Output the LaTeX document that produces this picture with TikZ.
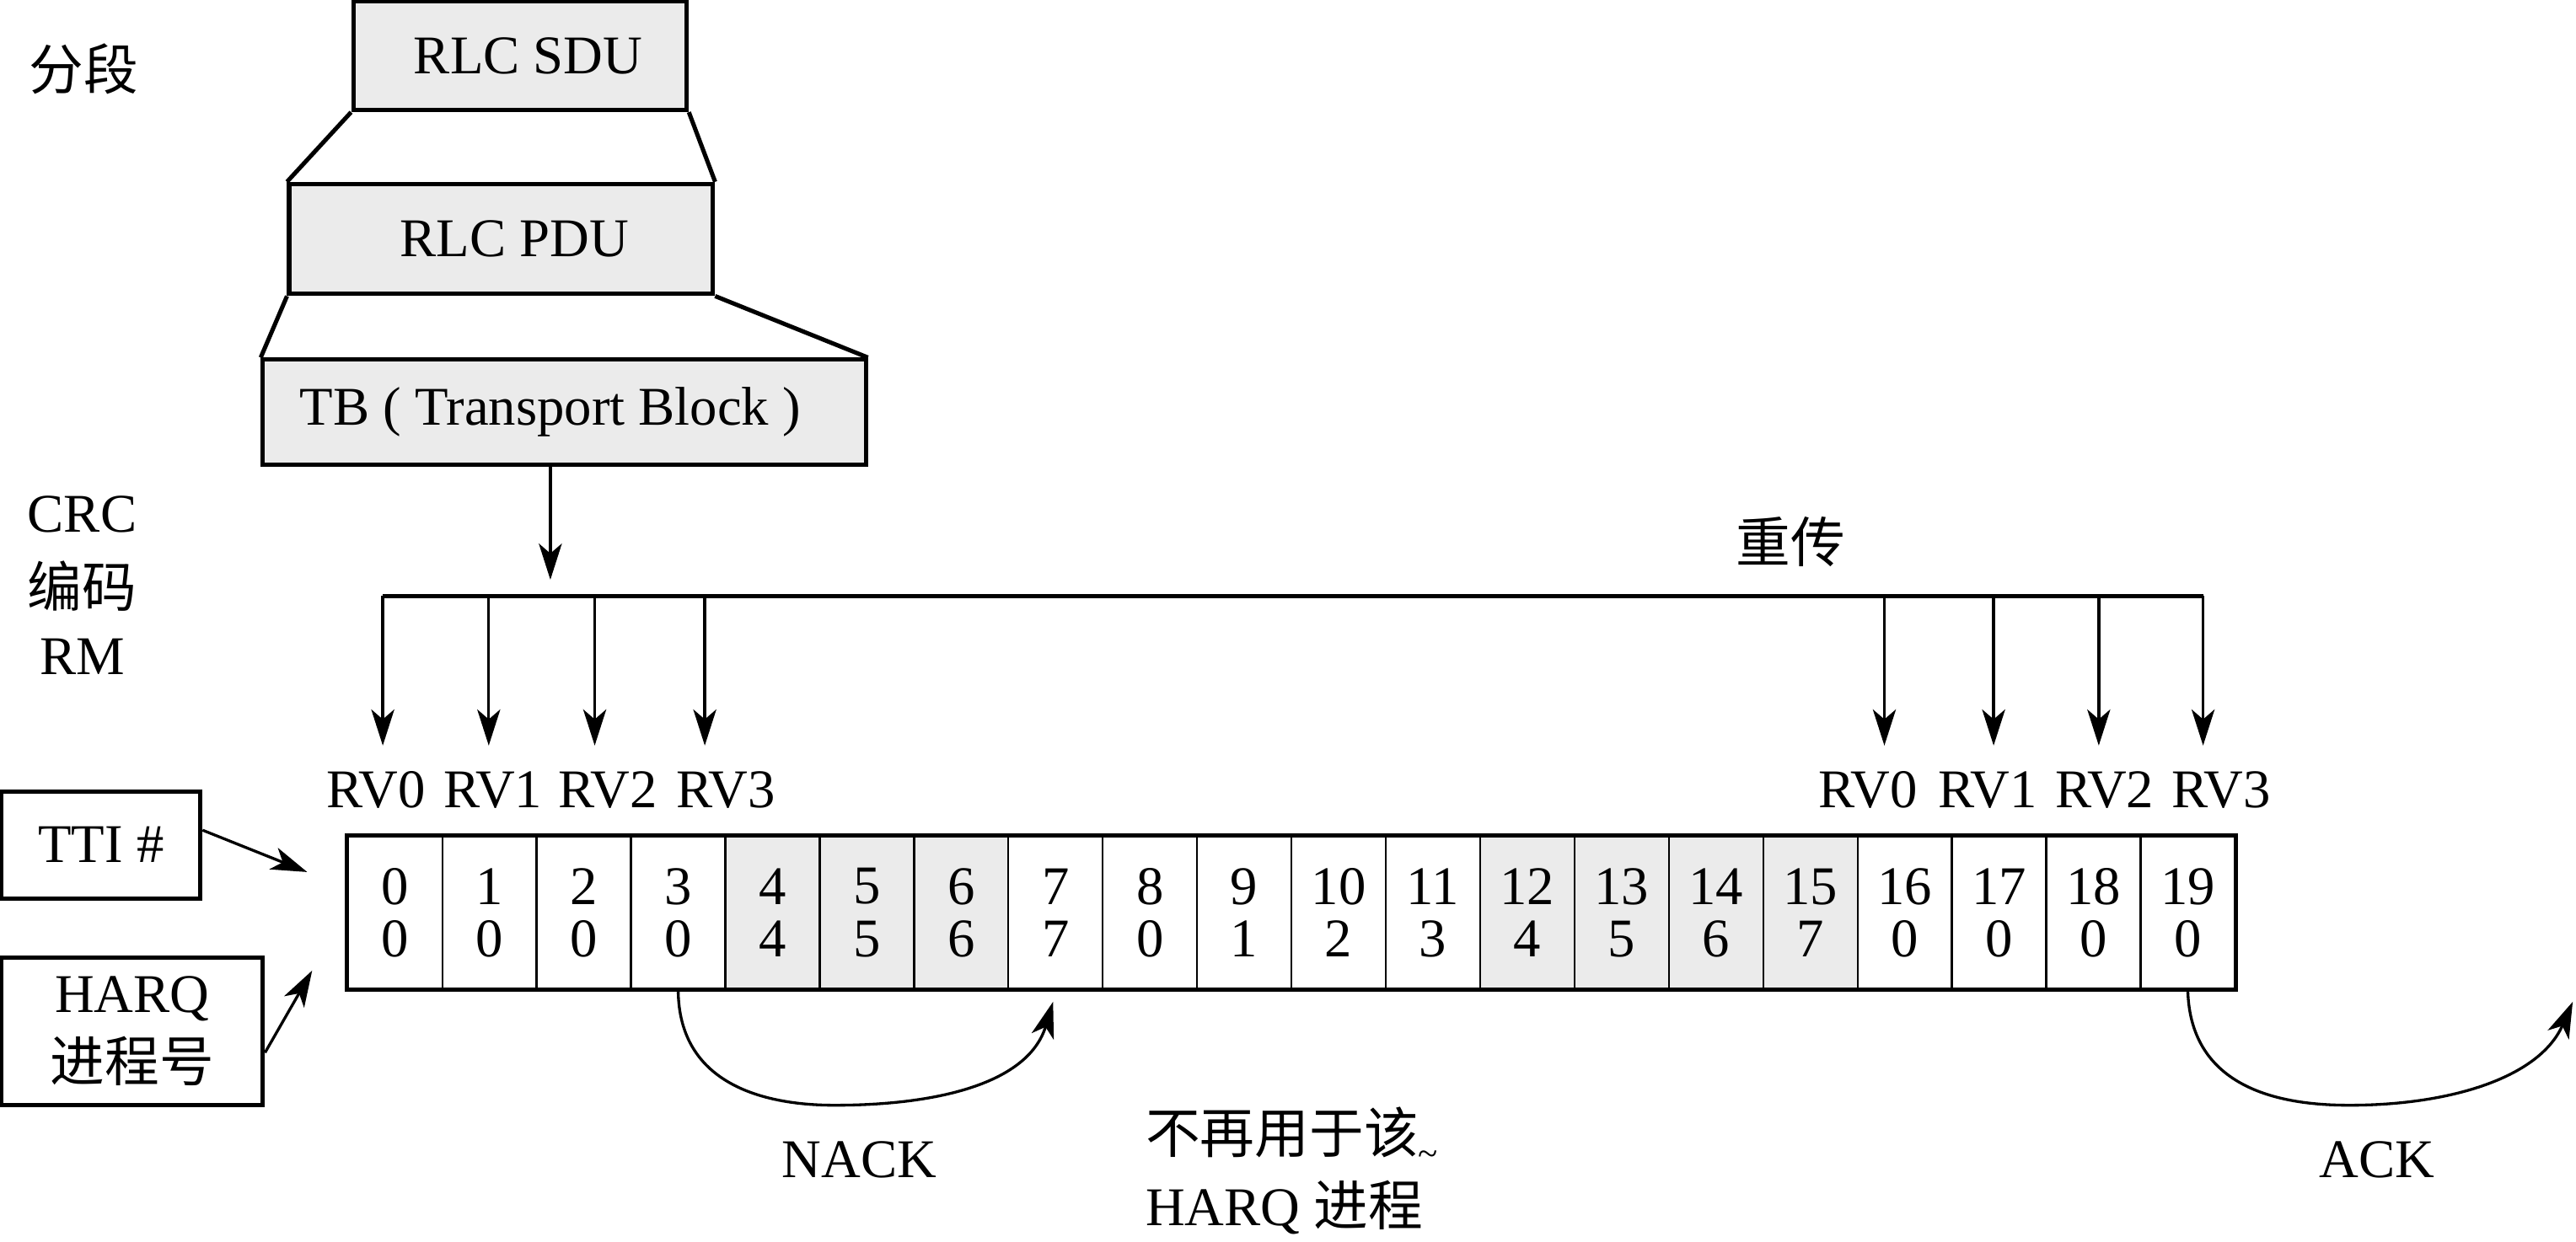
\documentclass[tikz,border=0pt]{standalone}
\usepackage{fontspec}
\setmainfont{Liberation Serif}
\newfontfamily\cjk{Noto Sans CJK SC}
\usetikzlibrary{arrows.meta,calc}
\definecolor{boxgray}{RGB}{235,235,235}
\begin{document}
\begin{tikzpicture}[x=0.5pt,y=-0.5pt,
  every node/.style={font=\fontsize{16.6}{16}\selectfont, inner sep=0pt},
  blk/.style={draw, line width=1.3pt, fill=boxgray},
  lblbox/.style={draw, line width=1.3pt, fill=white, align=center},
  cellst/.style={draw, line width=0.6pt, minimum width=28.715pt, minimum height=46.25pt, align=center},
  arr/.style={-{Stealth[length=11pt,width=7pt,inset=3pt]}, line width=0.85pt},
  thk/.style={line width=1.3pt}]
\useasboundingbox (0,0) rectangle (1568,756);

% segmentation stack
\node[blk, minimum width=101.5pt, minimum height=33pt] (sdu) at (316.5,34) {\hspace*{5pt}RLC SDU};
\node[blk, minimum width=129pt, minimum height=33.5pt] (pdu) at (305,145.5) {\hspace*{8pt}RLC PDU};
\node[blk, minimum width=183.5pt, minimum height=32pt] (tb) at (343.5,251) {TB ( Transport Block )\hspace*{8.5pt}};
\draw[thk] (sdu.south west) -- (pdu.north west);
\draw[thk] (sdu.south east) -- (pdu.north east);
\draw[thk] (pdu.south west) -- (tb.north west);
\draw[thk] (pdu.south east) -- (tb.north east);

% left labels
\node (fenduan) at (51,42) {\cjk 分段};
\node (crc) at (50,313) {CRC};
\node (bianma) at (50,357) {\cjk 编码};
\node (rm) at (50,400) {RM};
\node (chuan) at (1090,330) {\cjk 重传};

% bus
\coordinate (busin) at (335,353);
\coordinate (busL) at (233,363);
\coordinate (busR) at (1341,363);
\draw[arr] ($(tb.south)+(-8.5,0)$) -- (busin);
\draw[thk] (busL) -- (busR);
\foreach \n/\x in {a/233,b/297.5,c/362,d/429,e/1147,f/1213.5,g/1277.5,h/1341}{
  \coordinate (top\n) at (\x,363);
  \coordinate (tip\n) at (\x,454);
  \draw[arr] (top\n) -- (tip\n);
}
\foreach \n/\x/\t in {a/229/RV0,b/300/RV1,c/370/RV2,d/442/RV3,e/1137/RV0,f/1210/RV1,g/1281/RV2,h/1352/RV3}{
  \node (rv\n) at (\x,481) {\t};
}

% TTI table
\foreach \i/\h/\f in {0/0/white,1/0/white,2/0/white,3/0/white,4/4/boxgray,5/5/boxgray,6/6/boxgray,7/7/white,
  8/0/white,9/1/white,10/2/white,11/3/white,12/4/boxgray,13/5/boxgray,14/6/boxgray,15/7/boxgray,
  16/0/white,17/0/white,18/0/white,19/0/white}{
  \pgfmathsetmacro{\cx}{211.8+(\i+0.5)*57.43}
  \node[cellst, fill=\f] (c\i) at (\cx,555.75) {\i\\\h};
}
\draw[thk] (c0.north west) rectangle (c19.south east);

% side boxes
\node[lblbox, minimum width=60.5pt, minimum height=32.5pt] (tti) at (61.5,514.5) {TTI \#};
\node[lblbox, minimum width=79.5pt, minimum height=45pt, font=\fontsize{16.6}{21}\selectfont] (harq) at (80.5,628) {HARQ\\{\cjk 进程号}};
\coordinate (ttitip) at (187,531);
\coordinate (harqtip) at (190,591);
\draw[arr] ($(tti.east)+(0,-9)$) -- (ttitip);
\draw[arr] ($(harq.east)+(0,13)$) -- (harqtip);

% NACK / ACK curves
\coordinate (nacktip) at (641,610);
\coordinate (acktip) at (1566,610);
\draw[arr] (c3.south) .. controls (413,662) and (468,673) .. (508,673)
   .. controls (570,673) and (626,660) .. (nacktip);
\draw[arr] (c19.south) .. controls (1333,664) and (1390,673) .. (1430,673)
   .. controls (1492,673) and (1546,656) .. (acktip);

\node (nack) at (523,706) {NACK};
\node (ack) at (1447,706) {ACK};
\node[anchor=west] (note1) at (697,692) {{\cjk 不再用于该}\raisebox{-4pt}{\fontsize{11}{11}\selectfont\textasciitilde}};
\node[anchor=west] (note2) at (697,735) {HARQ {\cjk 进程}};
\end{tikzpicture}
\end{document}
